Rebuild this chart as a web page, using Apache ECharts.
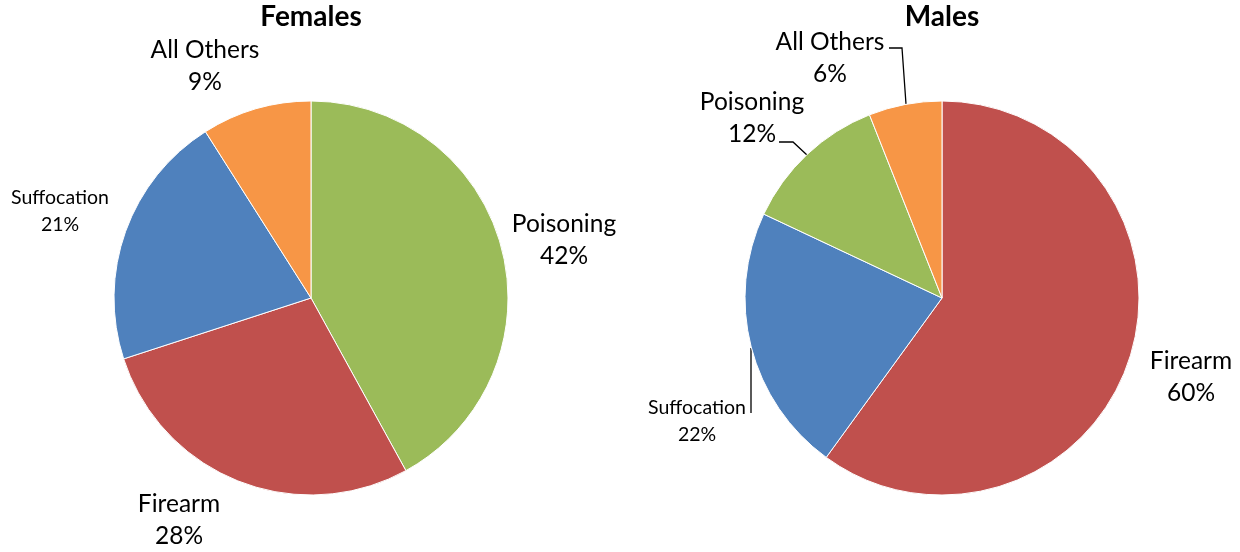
<!DOCTYPE html>
<html>
<head>
<meta charset="utf-8">
<script src="https://cdn.jsdelivr.net/npm/echarts@6/dist/echarts.min.js"></script>
<style>
  html, body { margin: 0; padding: 0; background: #fff; }
  #chart { width: 1240px; height: 552px; }
</style>
</head>
<body>
<div id="chart"></div>
<script>
// data
var femaleCauses = ['Poisoning', 'Firearm', 'Suffocation', 'All Others']
var femaleShares = [42, 28, 21, 9]
var maleCauses = ['Firearm', 'Suffocation', 'Poisoning', 'All Others']
var maleShares = [60, 22, 12, 6]

var causeColors = {
  'Poisoning': '#9BBB59',
  'Firearm': '#C0504D',
  'Suffocation': '#4F81BD',
  'All Others': '#F79646'
}

// where the labels sit (label centre), per series, by data index
var femaleLabelPos = [[564, 240], [179, 520], [60, 211], [205, 66]]
var maleLabelPos = [[1191, 377], [697, 421], [752, 118], [830, 58]]
// leader lines for the male pie (slice edge -> elbow -> label)
var maleLeaders = [
  null,
  [[751, 348], [751, 380], [751, 413]],
  [[807, 155], [793, 142], [779, 142]],
  [[906, 104], [902, 48], [889, 48]]
]

var FONT = 'Lato'

function buildData(causes, shares, leaders) {
  return causes.map(function (name, i) {
    return {
      name: name,
      value: shares[i],
      itemStyle: { color: causeColors[name] },
      label: {
        fontSize: name === 'Suffocation' ? 19.5 : 24.5,
        lineHeight: name === 'Suffocation' ? 27 : 32
      },
      labelLine: { show: !!(leaders && leaders[i]) }
    }
  })
}

var chart = echarts.init(document.getElementById('chart'), null, { renderer: 'canvas' })

function pieSeries(causes, shares, cx, labelPos, leaders) {
  return {
    type: 'pie',
    center: [cx, 298],
    radius: 197,
    startAngle: 90,
    clockwise: true,
    avoidLabelOverlap: false,
    animation: false,
    silent: true,
    itemStyle: { borderColor: '#fff', borderWidth: 1 },
    label: {
      show: true,
      position: 'outside',
      formatter: '{b}\n{c}%',
      color: '#000',
      fontFamily: FONT,
      align: 'center'
    },
    labelLine: {
      lineStyle: { color: '#000', width: 1.3 }
    },
    labelLayout: function (params) {
      var p = labelPos[params.dataIndex]
      var out = { x: p[0], y: p[1], align: 'center', verticalAlign: 'middle' }
      if (leaders && leaders[params.dataIndex]) {
        out.labelLinePoints = leaders[params.dataIndex]
      }
      return out
    },
    data: buildData(causes, shares, leaders)
  }
}

chart.setOption({
  backgroundColor: '#fff',
  title: [
    {
      text: 'Females',
      left: 311,
      top: 3,
      textAlign: 'center',
      padding: 0,
      textStyle: { fontFamily: FONT, fontWeight: 'bold', fontSize: 28, color: '#000' }
    },
    {
      text: 'Males',
      left: 942,
      top: 3,
      textAlign: 'center',
      padding: 0,
      textStyle: { fontFamily: FONT, fontWeight: 'bold', fontSize: 28, color: '#000' }
    }
  ],
  series: [
    pieSeries(femaleCauses, femaleShares, 311, femaleLabelPos, null),
    pieSeries(maleCauses, maleShares, 942, maleLabelPos, maleLeaders)
  ]
})
</script>
</body>
</html>
